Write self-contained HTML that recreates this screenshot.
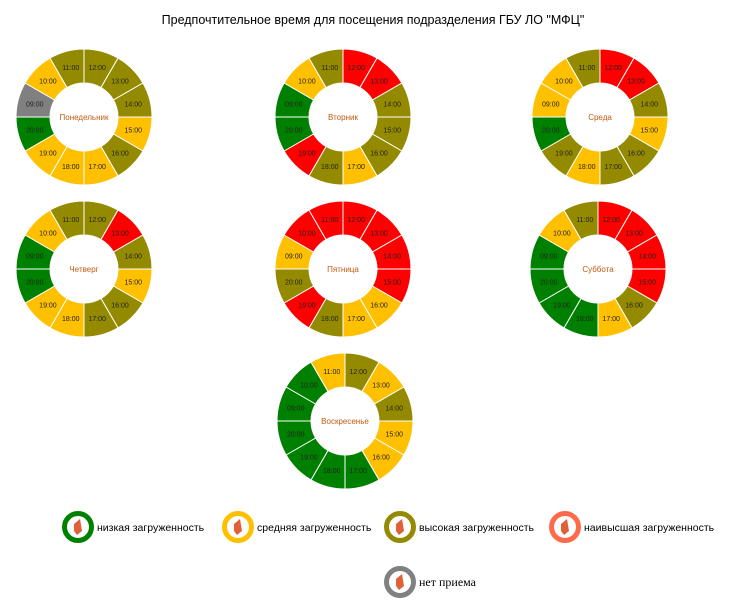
<!DOCTYPE html>
<html><head><meta charset="utf-8">
<style>
body{margin:0;background:#fff;width:750px;height:610px;overflow:hidden;font-family:"Liberation Sans",sans-serif}
svg{display:block}
</style></head>
<body>
<svg id="chart" width="750" height="610">
<text x="373" y="24" text-anchor="middle" font-size="12.5" fill="#000">Предпочтительное время для посещения подразделения ГБУ ЛО "МФЦ"</text>
<g id="donuts"></g>
<g id="legend"></g>
</svg>
<script>
const hours = ["12:00","13:00","14:00","15:00","16:00","17:00","18:00","19:00","20:00","09:00","10:00","11:00"];
const days = ["Понедельник","Вторник","Среда","Четверг","Пятница","Суббота","Воскресенье"];
const loadMon = ["O","O","O","Y","O","Y","Y","Y","G","N","Y","O"];
const loadTue = ["R","R","O","O","O","Y","O","R","G","G","Y","O"];
const loadWed = ["R","R","O","Y","O","O","Y","O","G","Y","Y","O"];
const loadThu = ["O","R","O","Y","O","O","Y","Y","G","G","Y","O"];
const loadFri = ["R","R","R","R","Y","Y","O","R","O","Y","R","R"];
const loadSat = ["R","R","R","R","O","Y","G","G","G","G","Y","O"];
const loadSun = ["O","Y","O","Y","Y","G","G","G","G","G","G","Y"];
const loads = [loadMon,loadTue,loadWed,loadThu,loadFri,loadSat,loadSun];
const legendKeys = ["G","Y","O","R","N"];
const legendLabels = ["низкая загруженность","средняя загруженность","высокая загруженность","наивысшая загруженность","нет приема"];

const colors = {G:"#008000",Y:"#FFC000",O:"#948A00",R:"#FF0000",N:"#808080"};
const centers = [[84,117],[343,117],[600,117],[84,269],[343,269],[598,269],[345,421]];
const R0=68, R1=34;
const NS="http://www.w3.org/2000/svg";
const dg=document.getElementById('donuts');
function pt(cx,cy,r,a){return [cx+r*Math.sin(a), cy-r*Math.cos(a)];}
days.forEach((day,d)=>{
  const [cx,cy]=centers[d];
  const g=document.createElementNS(NS,'g');
  
  
  dg.appendChild(g);
  const n=hours.length, step=2*Math.PI/n;
  loads[d].forEach((k,i)=>{
    const a0=i*step,a1=(i+1)*step;
    const p0=pt(cx,cy,R0,a0),p1=pt(cx,cy,R0,a1),p2=pt(cx,cy,R1,a1),p3=pt(cx,cy,R1,a0);
    const p=document.createElementNS(NS,'path');
    p.setAttribute('d',`M${p0[0]},${p0[1]}A${R0},${R0} 0 0 1 ${p1[0]},${p1[1]}L${p2[0]},${p2[1]}A${R1},${R1} 0 0 0 ${p3[0]},${p3[1]}Z`);
    p.setAttribute('fill',colors[k]);p.setAttribute('stroke','#fff');p.setAttribute('stroke-width','1');
    
    
    g.appendChild(p);
    const m=pt(cx,cy,(R0+R1)/2,(a0+a1)/2);
    const t=document.createElementNS(NS,'text');
    t.setAttribute('x',m[0]);t.setAttribute('y',m[1]+2.5);t.setAttribute('text-anchor','middle');
    t.setAttribute('font-size','7');t.setAttribute('fill','#222');t.textContent=hours[i];
    
    
    g.appendChild(t);
  });
  const t=document.createElementNS(NS,'text');
  t.setAttribute('x',cx);t.setAttribute('y',cy+3);t.setAttribute('text-anchor','middle');
  t.setAttribute('font-size','8');t.setAttribute('fill','#C55A11');t.textContent=day;
  
  
  g.appendChild(t);
});
const lg=document.getElementById('legend');
const lpos=[[78,527],[238,527],[400,527],[565,527],[400,582]];
legendKeys.forEach((k,i)=>{
  const [x,y]=lpos[i];
  const g=document.createElementNS(NS,'g');
  
  
  const c=document.createElementNS(NS,'circle');
  c.setAttribute('cx',x);c.setAttribute('cy',y);c.setAttribute('r',13.5);
  c.setAttribute('fill','#fff');c.setAttribute('stroke',k==="R"?"#FF6A4A":colors[k]);c.setAttribute('stroke-width','5');
  g.appendChild(c);
  const l=document.createElementNS(NS,'path');
  l.setAttribute('d',`M${x-4},${y-3}L${x+2},${y-8}L${x+4},${y+4}L${x-1},${y+8}L${x-4},${y+4}Z`);
  l.setAttribute('fill','#E0603A');
  g.appendChild(l);
  const t=document.createElementNS(NS,'text');
  t.setAttribute('x',x+19);t.setAttribute('y',y+4);t.setAttribute('font-size',k==="N"?"12":"10.5");
  if(k==="N")t.setAttribute('font-family','"Liberation Serif",serif');
  t.setAttribute('fill','#000');t.textContent=legendLabels[i];
  g.appendChild(t);
  lg.appendChild(g);
});
</script>
</body></html>
